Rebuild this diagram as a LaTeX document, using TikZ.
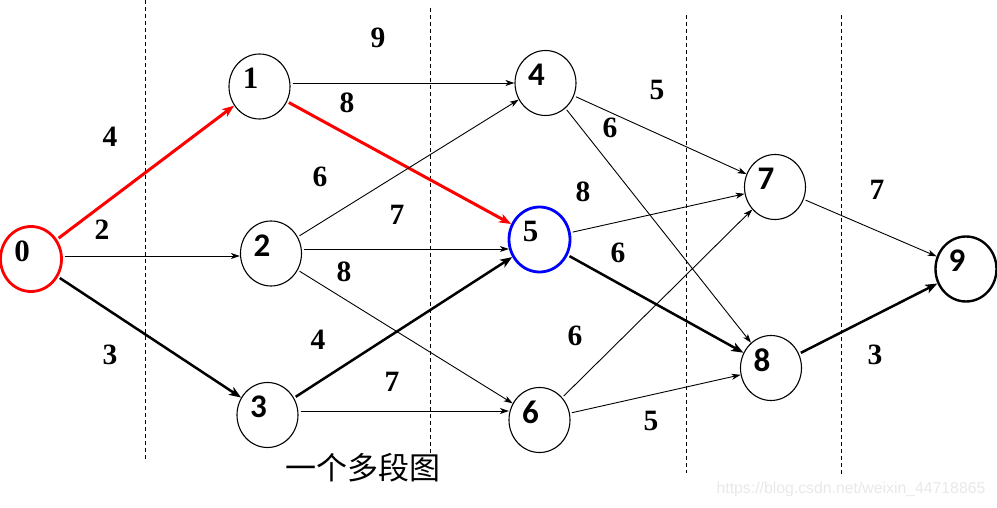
\documentclass[tikz,border=0pt]{standalone}
\usepackage{fontspec}
\setmainfont{Liberation Serif}
\newfontfamily\calfont{Carlito}
\newfontfamily\cjk{Noto Sans CJK SC}
\newfontfamily\lsans{Liberation Sans}
\usetikzlibrary{arrows.meta,shapes.geometric}
\begin{document}
\begin{tikzpicture}[x=1pt,y=1pt,
  st/.style={ellipse, draw, line width=1.1pt, minimum width=61pt, minimum height=65pt, inner sep=0pt},
  redst/.style={st, draw=red, line width=2.8pt},
  bluest/.style={st, draw=blue, line width=2.8pt},
  thickst/.style={st, line width=2.4pt},
  nlser/.style={shift={(-9pt,8pt)}, inner sep=0pt, font=\fontsize{31}{31}\selectfont\bfseries},
  nlsan/.style={shift={(-9pt,8pt)}, inner sep=0pt, font=\calfont\fontsize{33}{33}\selectfont\bfseries},
  thin/.style={line width=0.9pt, -{Stealth[length=9pt,width=6pt,inset=2.5pt]}, shorten <=2pt},
  thick/.style={line width=2.5pt, -{Stealth[length=12pt,width=9pt,inset=3pt]}, shorten <=2pt},
  redthick/.style={thick, draw=red, line width=3pt},
  el/.style={inner sep=0pt, font=\fontsize{29.5}{29.5}\selectfont\bfseries},
  sep/.style={line width=0.9pt, dash pattern=on 4pt off 3pt}
]
\useasboundingbox (0,0) rectangle (997,507);

% separators
\draw[sep] (145,507) -- (145,47);
\draw[sep] (430,499) -- (430,52);
\draw[sep] (686,492) -- (686,34);
\draw[sep] (841,492) -- (841,33);

% nodes
\node[redst]   (n0) at (31,248)    [label={[nlser]center:0}] {};
\node[st]      (n1) at (259.5,420.5) [label={[nlser]center:1}] {};
\node[st]      (n2) at (271,253.5) [label={[nlsan]center:2}] {};
\node[st]      (n3) at (267.5,92)  [label={[nlsan]center:3}] {};
\node[st]      (n4) at (545.5,424) [label={[nlsan]center:4}] {};
\node[bluest]  (n5) at (539.5,267.5) [label={[nlser]center:5}] {};
\node[st]      (n6) at (539.5,87)  [label={[nlsan]center:6}] {};
\node[st]      (n7) at (775,320)   [label={[nlsan]center:7}] {};
\node[st]      (n8) at (771,139)   [label={[nlsan]center:8}] {};
\node[thickst] (n9) at (966,238)   [label={[nlsan]center:9}] {};

% edges
\draw[redthick] (n0) -- (n1);
\draw[thin] ([yshift=3pt]n0.east) -- ([yshift=-2.5pt]n2.west);
\draw[thick] (n0) -- (n3);
\draw[thin] ([yshift=3.5pt]n1.east) -- (n4.west);
\draw[redthick] (n1) -- (n5);
\draw[thin] (n2) -- (n4);
\draw[thin] ([yshift=4.5pt]n2.east) -- ([xshift=1.3pt,yshift=-9.5pt]n5.west);
\draw[thin] (n2) -- (n6);
\draw[thick] (n3) -- (n5);
\draw[thin] ([yshift=4pt]n3.east) -- ([xshift=0.5pt,yshift=9pt]n6.west);
\draw[thin] (n4) -- (n7);
\draw[thin] (n4) -- (n8);
\draw[thin] (n5) -- (n7);
\draw[thick] (n5) -- (n8);
\draw[thin] (n6) -- (n7);
\draw[thin] (n6) -- (n8);
\draw[thin] (n7) -- (n9);
\draw[thick] (n8) -- (n9);

% edge labels
\node[el] (l01) at (110,370) {4};
\node[el] (l02) at (102,277) {2};
\node[el] (l03) at (110,152) {3};
\node[el] (l14) at (378,469) {9};
\node[el] (l15) at (347,404) {8};
\node[el] (l24) at (320,330) {6};
\node[el] (l25) at (397,292) {7};
\node[el] (l26) at (344,235) {8};
\node[el] (l35) at (318,167) {4};
\node[el] (l36) at (392,125) {7};
\node[el] (l47) at (657,417) {5};
\node[el] (l48) at (610,379) {6};
\node[el] (l57) at (583,315) {8};
\node[el] (l58) at (618,254) {6};
\node[el] (l67) at (575,171) {6};
\node[el] (l68) at (651,86) {5};
\node[el] (l79) at (877,317) {7};
\node[el] (l89) at (875,152) {3};

% caption and watermark
\node[inner sep=0pt, font=\cjk\fontsize{31}{31}\selectfont] (cap) at (363,39) {一个多段图};
\node[inner sep=0pt, text=gray!18, font=\lsans\fontsize{15.8}{15.8}\selectfont] (wm) at (851,18) {https://blog.csdn.net/weixin\_44718865};
\end{tikzpicture}
\end{document}
